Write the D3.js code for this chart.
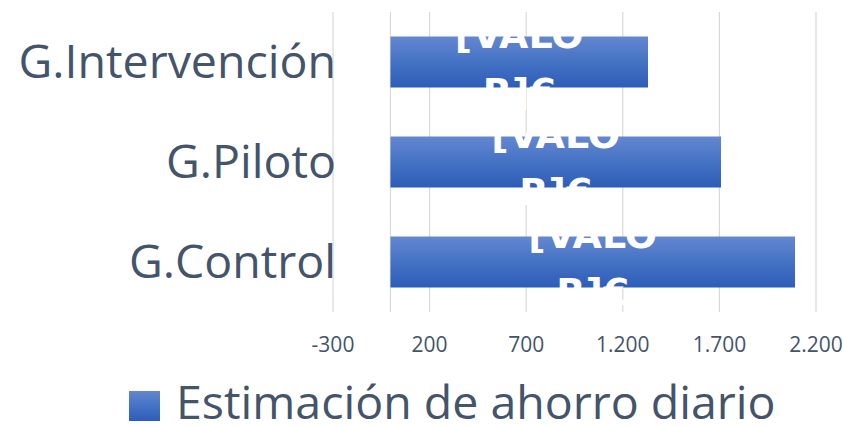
<!DOCTYPE html>
<html>
<head>
<meta charset="utf-8">
<script src="https://cdn.jsdelivr.net/npm/d3@7/dist/d3.min.js"></script>
<style>
  html, body { margin: 0; padding: 0; background: #ffffff; }
  svg { display: block; }
</style>
</head>
<body>
<script>
// ---- data ----
const categories = ["G.Intervención", "G.Piloto", "G.Control"];
const values = [1333, 1711, 2094];
const xTicks = [-300, 200, 700, 1200, 1700, 2200];
const seriesName = "Estimación de ahorro diario";
const labelLines = ["[VALO", "R]€"];

// ---- setup ----
const W = 843, H = 426;
const svg = d3.select("body").append("svg").attr("width", W).attr("height", H);

const textColor = "#44546A";
const gridColor = "#D9D9D9";
const fontMain = "'Open Sans', Lato, sans-serif";

const defs = svg.append("defs");
const grad = defs.append("linearGradient")
  .attr("id", "barGrad").attr("x1", 0).attr("y1", 0).attr("x2", 0).attr("y2", 1);
grad.append("stop").attr("offset", "0%").attr("stop-color", "#6487D0");
grad.append("stop").attr("offset", "50%").attr("stop-color", "#4472C4");
grad.append("stop").attr("offset", "100%").attr("stop-color", "#2E5DB8");

const plotTop = 12, plotBottom = 312;
const x = d3.scaleLinear().domain([-300, 2200]).range([332.5, 815.5]);
const y = d3.scaleBand().domain(categories).range([plotTop, plotBottom])
  .paddingInner(0.49).paddingOuter(0.245);

const locale = d3.formatLocale({ decimal: ",", thousands: ".", grouping: [3], currency: ["", "€"], minus: "-" });
const fmt = locale.format(",");

// gridlines
const grid = svg.append("g").attr("transform", `translate(0,${plotBottom})`)
  .call(d3.axisBottom(x).tickValues(xTicks).tickSize(-(plotBottom - plotTop)).tickFormat(""));
grid.select(".domain").remove();
grid.selectAll("line").attr("stroke", gridColor).attr("stroke-width", 1.2);

// vertical axis line at zero
svg.append("line")
  .attr("x1", x(0)).attr("x2", x(0)).attr("y1", plotTop).attr("y2", plotBottom)
  .attr("stroke", gridColor).attr("stroke-width", 1.2);

// tick labels
const xa = svg.append("g").attr("transform", `translate(0,${plotBottom})`)
  .call(d3.axisBottom(x).tickValues(xTicks).tickSize(0).tickPadding(0).tickFormat(fmt));
xa.select(".domain").remove();
xa.selectAll("text")
  .attr("y", 40).attr("dy", null)
  .attr("fill", textColor)
  .style("font-family", fontMain)
  .style("font-size", "21px");

// category labels
const ya = svg.append("g").attr("transform", `translate(336,0)`)
  .call(d3.axisLeft(y).tickSize(0).tickPadding(0));
ya.select(".domain").remove();
ya.selectAll("text")
  .attr("fill", textColor)
  .attr("dy", "0.34em")
  .style("font-family", fontMain)
  .style("font-size", "46.5px");

// bars
const data = categories.map((c, i) => ({ c, v: values[i] }));
svg.append("g").selectAll("rect").data(data).join("rect")
  .attr("x", d => x(0))
  .attr("y", d => y(d.c))
  .attr("width", d => x(d.v) - x(0))
  .attr("height", y.bandwidth())
  .attr("fill", "url(#barGrad)");

// data labels (white, wrapped)
const lbl = svg.append("g").selectAll("text").data(data).join("text")
  .attr("x", d => (x(0) + x(d.v)) / 2)
  .attr("y", d => y(d.c) + y.bandwidth() / 2)
  .attr("text-anchor", "middle")
  .attr("fill", "#ffffff")
  .style("font-family", "'DejaVu Sans', sans-serif")
  .style("font-weight", "bold")
  .style("font-size", "38px");
lbl.append("tspan").attr("dy", -14).attr("x", d => (x(0) + x(d.v)) / 2).text(labelLines[0]);
lbl.append("tspan").attr("dy", 57).attr("x", d => (x(0) + x(d.v)) / 2).text(labelLines[1]);

// legend
const lg = svg.append("g");
lg.append("rect").attr("x", 129).attr("y", 391).attr("width", 31).attr("height", 30)
  .attr("fill", "url(#barGrad)");
lg.append("text").attr("x", 176).attr("y", 419)
  .attr("fill", textColor)
  .style("font-family", fontMain)
  .style("font-size", "46.5px")
  .text(seriesName);
</script>
</body>
</html>
